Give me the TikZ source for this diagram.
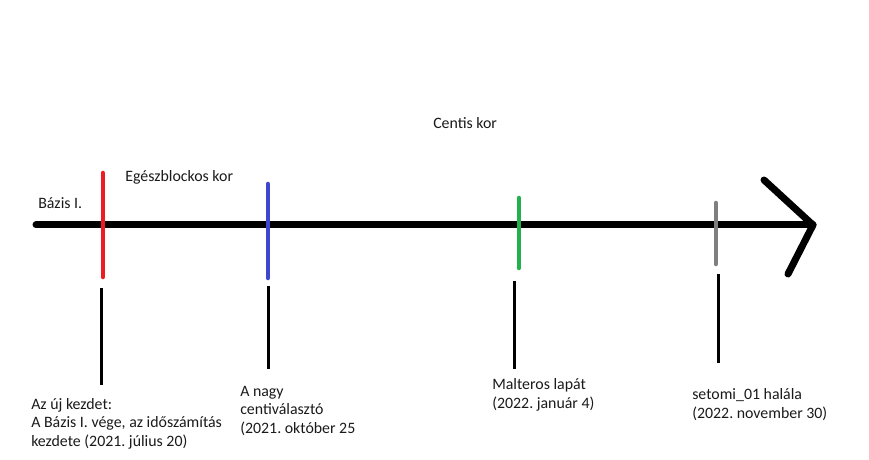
\documentclass[tikz,border=0pt]{standalone}
\usepackage{fontspec}
\setmainfont{Carlito}
\definecolor{pred}{HTML}{ED1C24}
\definecolor{pblue}{HTML}{3F48CC}
\definecolor{pgreen}{HTML}{22B14C}
\definecolor{pgray}{HTML}{7F7F7F}
\definecolor{ptext}{HTML}{1A1A1A}
\begin{document}
\begin{tikzpicture}[x=0.75pt,y=-0.75pt,
  axis/.style={line width=5.25pt,line cap=round,line join=round,black},
  tick/.style={line width=3.4pt,line cap=round},
  stem/.style={line width=2.25pt,black},
  lbl/.style={inner sep=0pt,anchor=base west,align=left,text=ptext,font=\fontsize{11.9}{13.6}\selectfont\frenchspacing}]
\useasboundingbox (0,0) rectangle (869,460);
% axis
\coordinate (a0) at (36,225);
\coordinate (a1) at (813,225);
\coordinate (h1) at (764,180);
\coordinate (h2) at (788,274);
\draw[axis] (a0) -- (a1);
\draw[axis] (h1) -- (a1) -- (h2);
% colored ticks
\coordinate (r0) at (103,173); \coordinate (r1) at (103,277);
\coordinate (b0) at (268,184); \coordinate (b1) at (268,278);
\coordinate (g0) at (519,198); \coordinate (g1) at (519,268);
\coordinate (y0) at (716,203); \coordinate (y1) at (716,264);
\draw[tick,pred] (r0) -- (r1);
\draw[tick,pblue] (b0) -- (b1);
\draw[tick,pgreen] (g0) -- (g1);
\draw[tick,pgray] (y0) -- (y1);
% stems
\coordinate (s1a) at (101.5,288); \coordinate (s1b) at (101.5,385);
\coordinate (s2a) at (268,286); \coordinate (s2b) at (268,369);
\coordinate (s3a) at (514,281); \coordinate (s3b) at (514,369);
\coordinate (s4a) at (718,274); \coordinate (s4b) at (718,363);
\draw[stem] (s1a) -- (s1b);
\draw[stem] (s2a) -- (s2b);
\draw[stem] (s3a) -- (s3b);
\draw[stem] (s4a) -- (s4b);
% labels
\node[lbl] (bazis) at (38,209) {Bázis I.};
\node[lbl] (egesz) at (125,181) {Egészblockos kor};
\node[lbl] (centis) at (433,129) {Centis kor};
\node[lbl] (t1) at (31,446) {Az új kezdet:\\A Bázis I. vége, az időszámítás\\kezdete (2021. július 20)};
\node[lbl] (t2) at (240,433) {A nagy\\centiválasztó\\(2021. október 25};
\node[lbl] (t3) at (492,408) {Malteros lapát\\(2022. január 4)};
\node[lbl] (t4) at (692,418) {setomi\_01 halála\\(2022. november 30)};
\end{tikzpicture}
\end{document}
